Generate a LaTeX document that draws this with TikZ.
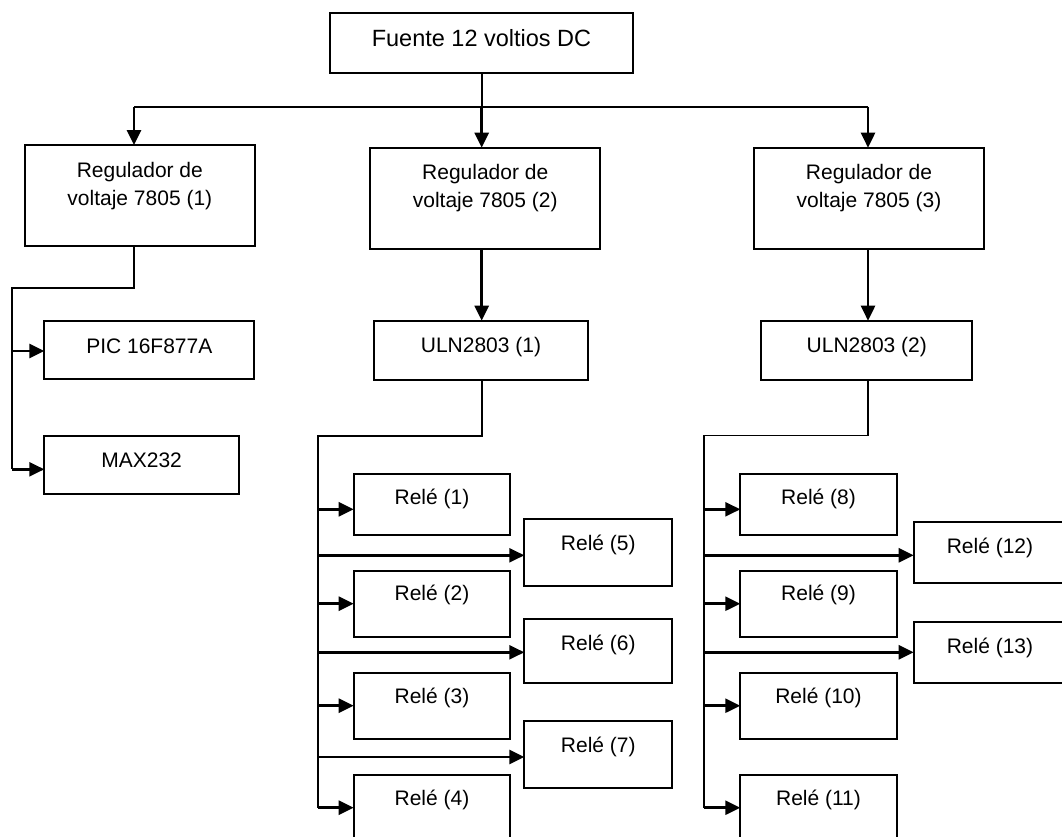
\documentclass[tikz,border=0pt]{standalone}
\usepackage{fontspec}
\setmainfont{Liberation Sans}
\usetikzlibrary{arrows.meta}
\begin{document}
\begin{tikzpicture}[x=1pt,y=-1pt,
  box/.style={draw, line width=1.8pt, inner sep=0pt, outer sep=0pt,
    anchor=north west, font=\fontsize{21pt}{28.3pt}\selectfont},
  wire/.style={line width=1.7pt},
  arr/.style={line width=2.6pt, -{Triangle[length=15pt,width=14pt]}}]
\useasboundingbox (0,0) rectangle (1062,836);
\clip (0,0) rectangle (1062,836);

% power supply and regulators
\node[box, font=\fontsize{23.5pt}{28pt}\selectfont, minimum width=302.6pt,
  text height=34pt, text depth=26.6pt] (F) at (330.2,12.7) {Fuente 12 voltios DC};
\node[box, minimum width=230.3pt, text height=32.5pt, text depth=68.5pt] (reg1) at (24.7,145)
  {\begin{tabular}[t]{@{}c@{}}Regulador de\\voltaje 7805 (1)\end{tabular}};
\node[box, minimum width=229.9pt, text height=31.5pt, text depth=70.1pt] (reg2) at (370.3,147.7)
  {\begin{tabular}[t]{@{}c@{}}Regulador de\\voltaje 7805 (2)\end{tabular}};
\node[box, minimum width=230pt, text height=31.5pt, text depth=70.1pt] (reg3) at (754,147.7)
  {\begin{tabular}[t]{@{}c@{}}Regulador de\\voltaje 7805 (3)\end{tabular}};

% controller branch
\node[box, minimum width=210pt, text height=32.5pt, text depth=25.8pt] (pic) at (44.3,321) {PIC 16F877A};
\node[box, minimum width=194.7pt, text height=31.8pt, text depth=26.8pt] (max) at (44.3,435.7) {MAX232};

% drivers
\node[box, minimum width=214.6pt, text height=31.8pt, text depth=27.2pt] (uln1) at (373.7,320.7) {ULN2803 (1)};
\node[box, minimum width=211pt, text height=31.8pt, text depth=27.2pt] (uln2) at (761.3,320.7) {ULN2803 (2)};

% relays, first driver
\node[box, minimum width=156.6pt, text height=30.8pt, text depth=30.5pt] (r1) at (353.7,473.7) {Relé (1)};
\node[box, minimum width=156.6pt, text height=30.1pt, text depth=36.2pt] (r2) at (353.7,570.7) {Relé (2)};
\node[box, minimum width=156.6pt, text height=30.5pt, text depth=35.8pt] (r3) at (353.7,672.7) {Relé (3)};
\node[box, minimum width=156.6pt, text height=30.5pt, text depth=39.5pt] (r4) at (353.7,774.7) {Relé (4)};
\node[box, minimum width=148pt, text height=31.5pt, text depth=34.9pt] (r5) at (524.3,519.3) {Relé (5)};
\node[box, minimum width=148pt, text height=30.9pt, text depth=32.8pt] (r6) at (524.3,619.3) {Relé (6)};
\node[box, minimum width=148pt, text height=31.2pt, text depth=35.2pt] (r7) at (524.3,721.3) {Relé (7)};

% relays, second driver
\node[box, minimum width=156.4pt, text height=31pt, text depth=30.3pt] (r8) at (740.3,473.7) {Relé (8)};
\node[box, minimum width=156.4pt, text height=30.1pt, text depth=36.2pt] (r9) at (740.3,570.7) {Relé (9)};
\node[box, minimum width=156.4pt, text height=30.8pt, text depth=35.5pt] (r10) at (740.3,672.7) {Relé (10)};
\node[box, minimum width=156.4pt, text height=30.5pt, text depth=39.5pt] (r11) at (740.3,774.7) {Relé (11)};
\node[box, minimum width=152.6pt, text height=31.5pt, text depth=29.8pt] (r12) at (913.7,522) {Relé (12)};
\node[box, minimum width=152.6pt, text height=31.5pt, text depth=29.5pt] (r13) at (913.7,622) {Relé (13)};

% supply bus
\coordinate (busL) at (134,106.7);
\coordinate (busM) at (481.7,106.7);
\coordinate (busR) at (868,106.7);
\draw[wire] (F.south -| busM) -- (busM);
\draw[wire] (busL) -- (busR);
\draw[arr] (busL) -- (busL |- reg1.north);
\draw[arr] (busM) -- (busM |- reg2.north);
\draw[arr] (busR) -- (busR |- reg3.north);

% regulator 1 to PIC and MAX232
\coordinate (a1) at (134,287.7);
\coordinate (a2) at (12,287.7);
\coordinate (a3) at (12,469.3);
\coordinate (a4) at (12,351);
\draw[wire] (busL |- reg1.south) -- (a1) -- (a2) -- (a3);
\draw[arr] (a4) -- (a4 -| pic.west);
\draw[arr] (a3) -- (a3 -| max.west);

% regulators 2 and 3 to drivers
\draw[arr] (busM |- reg2.south) -- (busM |- uln1.north);
\draw[arr] (busR |- reg3.south) -- (busR |- uln2.north);

% driver 1 relay bus
\coordinate (b1) at (481.7,436);
\coordinate (b2) at (317.7,436);
\coordinate (b3) at (317.7,807.7);
\draw[wire] (busM |- uln1.south) -- (b1) -- (b2) -- (b3);
\foreach \y/\n in {509.3/r1, 603.7/r2, 705.7/r3, 807.7/r4, 555.3/r5, 652.3/r6, 757/r7}{
  \coordinate (t) at (317.7,\y);
  \draw[arr] (t) -- (t -| \n.west);
}

% driver 2 relay bus
\coordinate (c1) at (868,435.5);
\coordinate (c2) at (704.3,435.5);
\coordinate (c3) at (704.3,807.7);
\draw[wire] (busR |- uln2.south) -- (c1) -- (c2) -- (c3);
\foreach \y/\n in {509.3/r8, 603.7/r9, 705.7/r10, 807.7/r11, 555.3/r12, 652.3/r13}{
  \coordinate (t) at (704.3,\y);
  \draw[arr] (t) -- (t -| \n.west);
}
\end{tikzpicture}
\end{document}
